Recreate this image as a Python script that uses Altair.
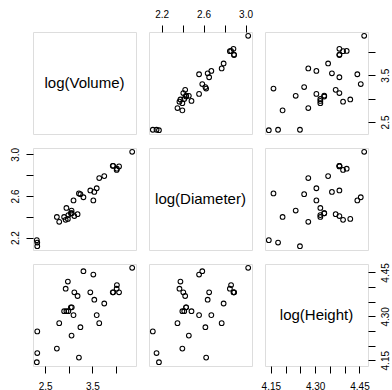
import altair as alt
import pandas as pd

names = ["log(Volume)", "log(Diameter)", "log(Height)"]

log_volume = [2.3321, 2.3321, 2.3224, 2.7973, 2.9339, 2.9806, 2.7473, 2.9014,
              3.1180, 2.9907, 3.1864, 3.0445, 3.0634, 3.0587, 2.9497, 3.1001,
              3.5205, 3.3105, 3.2465, 3.2149, 3.5410, 3.4563, 3.5918, 3.6454,
              3.7519, 4.0146, 4.0200, 4.0656, 3.9416, 3.9318, 4.3438]
log_diameter = [2.1163, 2.1518, 2.1748, 2.3514, 2.3702, 2.3795, 2.3979, 2.3979,
                2.4069, 2.4159, 2.4248, 2.4336, 2.4336, 2.4596, 2.4849, 2.5572,
                2.5572, 2.5878, 2.6174, 2.6247, 2.6391, 2.6532, 2.6741, 2.7726,
                2.7912, 2.8507, 2.8622, 2.8848, 2.8904, 2.8904, 3.0253]
log_height = [4.2485, 4.1744, 4.1431, 4.2767, 4.3944, 4.4188, 4.1897, 4.3175,
              4.3820, 4.3175, 4.3694, 4.3307, 4.3307, 4.2341, 4.3175, 4.3041,
              4.4427, 4.4543, 4.2627, 4.1589, 4.3567, 4.3820, 4.3041, 4.2767,
              4.3438, 4.3944, 4.4067, 4.3820, 4.3820, 4.3820, 4.4659]

tick_values = [
    [2.5, 3.0, 3.5, 4.0],
    [2.2, 2.4, 2.6, 2.8, 3.0],
    [4.15, 4.20, 4.25, 4.30, 4.35, 4.40, 4.45],
]
tick_labels = [["2.5", "3.5"], ["2.2", "2.6", "3.0"], ["4.15", "4.30", "4.45"]]
tick_formats = [".1f", ".1f", ".2f"]

series = [log_volume, log_diameter, log_height]

W, H = 103, 102
FONT = "Liberation Sans"


def domain(v):
    lo, hi = min(v), max(v)
    r = hi - lo
    return [lo - 0.04 * r, hi + 0.04 * r]


def make_axis(k, orient):
    fmt = tick_formats[k]
    labs = "[" + ",".join("'%s'" % s for s in tick_labels[k]) + "]"
    expr = "indexof(%s, format(datum.value, '%s')) >= 0 ? format(datum.value, '%s') : ''" % (labs, fmt, fmt)
    kw = dict(
        orient=orient, values=tick_values[k], labelExpr=expr, title=None,
        domain=False, grid=False, ticks=True, tickSize=7, tickColor="black",
        tickWidth=1, labelFontSize=10, labelFont=FONT, labelColor="black",
        labelOverlap=False, labelFlush=False,
    )
    if orient == "left":
        kw.update(labelAngle=-90, labelAlign="center", labelBaseline="bottom", labelPadding=6)
    elif orient == "right":
        kw.update(labelAngle=-90, labelAlign="center", labelBaseline="top", labelPadding=5)
    elif orient == "top":
        kw.update(labelAngle=0, labelAlign="center", labelBaseline="bottom", labelPadding=6)
    else:
        kw.update(labelAngle=0, labelAlign="center", labelBaseline="top", labelPadding=8)
    return alt.Axis(**kw)


panels = []
for i in range(3):
    for j in range(3):
        df = pd.DataFrame({"x": series[j], "y": series[i]})
        if i == 2 and j % 2 == 0:
            xaxis = make_axis(j, "bottom")
        elif i == 0 and j % 2 == 1:
            xaxis = make_axis(j, "top")
        else:
            xaxis = None
        if j == 0 and i % 2 == 1:
            yaxis = make_axis(i, "left")
        elif j == 2 and i % 2 == 0:
            yaxis = make_axis(i, "right")
        else:
            yaxis = None
        xenc = alt.X("x:Q", scale=alt.Scale(domain=domain(series[j]), nice=False, zero=False),
                     axis=xaxis)
        yenc = alt.Y("y:Q", scale=alt.Scale(domain=domain(series[i]), nice=False, zero=False),
                     axis=yaxis)
        pts = alt.Chart(df).mark_point(
            shape="circle", filled=False, size=22, strokeWidth=1.1, color="black",
            opacity=1 if i != j else 0, clip=True,
        ).encode(x=xenc, y=yenc)
        if i == j:
            txt = alt.Chart(pd.DataFrame({"t": [names[i]]})).mark_text(
                fontSize=15, font=FONT, color="black", align="center", baseline="middle"
            ).encode(x=alt.value(W / 2), y=alt.value(H / 2), text="t:N")
            panel = alt.layer(pts, txt).properties(width=W, height=H)
        else:
            panel = pts.properties(width=W, height=H)
        panels.append(panel)

chart = alt.concat(
    *panels, columns=3, spacing={"row": 14, "column": 13}, bounds="flush",
    padding={"left": 9, "top": 8, "right": 0, "bottom": 0},
).configure_view(
    stroke="black", strokeWidth=1
).configure(background="white")

chart.save("out.html", embed_options={"renderer": "svg", "actions": False})
